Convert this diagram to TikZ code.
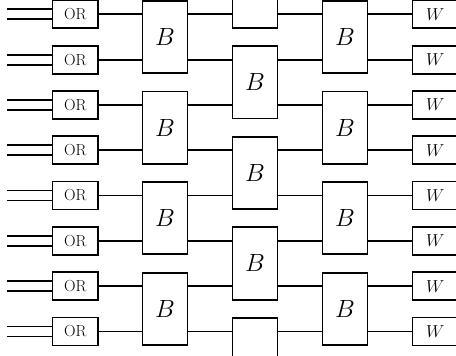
\documentclass[tikz,border=0pt]{standalone}
\begin{document}
\begin{tikzpicture}[x=1pt,y=-1pt, line width=1.8pt,
  orbox/.style={draw, minimum width=45.5pt, minimum height=28pt, inner sep=0pt, font=\fontsize{16}{19}\selectfont},
  bbox/.style={draw, minimum width=45pt, minimum height=72.3pt, inner sep=0pt, font=\fontsize{25}{30}\selectfont},
  wbox/.style={draw, minimum width=45.5pt, minimum height=28pt, inner sep=0pt, font=\fontsize{16}{19}\selectfont},
  wire/.style={line width=1.8pt}]
\useasboundingbox (0,0) rectangle (456,356);
\clip (0,0) rectangle (456,356);
% OR gates and W boxes
\foreach \k in {1,...,8}{
  \node[orbox] (or\k) at (75.25, {14.3+45.3*(\k-1)}) {OR};
  \node[wbox] (w\k) at (435.25, {14.3+45.3*(\k-1)}) {$W$};
}
% B columns 1 and 3
\foreach \j in {1,...,4}{
  \node[bbox] (b1\j) at (165, {14.3+45.3*(2*\j-1.5)}) {$B$};
  \node[bbox] (b3\j) at (345, {14.3+45.3*(2*\j-1.5)}) {$B$};
}
% B column 2 (partial boxes at top and bottom)
\node[bbox] (b20) at (255, {14.3+45.3*(-0.5)}) {};
\foreach \j in {1,2,3}{
  \node[bbox] (b2\j) at (255, {14.3+45.3*(2*\j-0.5)}) {$B$};
}
\node[bbox] (b24) at (255, {14.3+45.3*7.5}) {};
% wires
\foreach \k [evaluate=\k as \j using {int(ceil(\k/2))},
             evaluate=\k as \jj using {int(floor(\k/2))}] in {1,...,8}{
  \coordinate (ina\k) at (7.3, {14.3+45.3*(\k-1)-5});
  \coordinate (inb\k) at (7.3, {14.3+45.3*(\k-1)+5});
  \draw[wire] (ina\k) -- (ina\k -| or\k.west);
  \draw[wire] (inb\k) -- (inb\k -| or\k.west);
  \draw[wire] (or\k.east) -- (or\k.east -| b1\j.west);
  \draw[wire] (b1\j.east |- or\k) -- (b2\jj.west |- or\k);
  \draw[wire] (b2\jj.east |- or\k) -- (b3\j.west |- or\k);
  \draw[wire] (b3\j.east |- w\k) -- (w\k.west);
}
\end{tikzpicture}
\end{document}
